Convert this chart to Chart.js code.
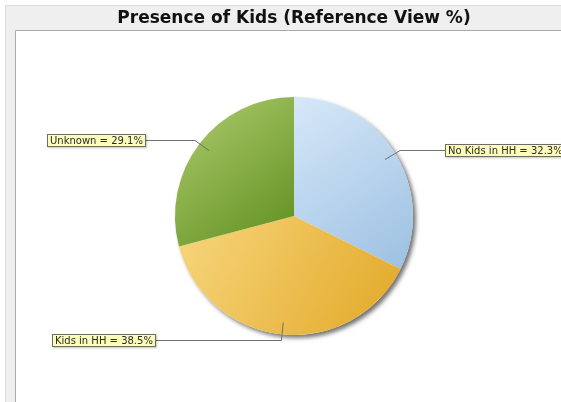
<!DOCTYPE html>
<html>
<head>
<meta charset="utf-8">
<script src="https://cdn.jsdelivr.net/npm/chart.js@4/dist/chart.umd.min.js"></script>
<style>
  html, body { margin: 0; padding: 0; background: #ffffff; }
  #wrap { width: 561px; height: 402px; position: relative; }
</style>
</head>
<body>
<div id="wrap"><canvas id="c" width="561" height="402"></canvas></div>
<script>
// Presence of kids in household, share of reference view (%)
const categories = ['No Kids in HH', 'Kids in HH', 'Unknown'];
const shares = [32.3, 38.5, 29.1];
const chartTitle = 'Presence of Kids (Reference View %)';

// Gradient stops per slice: [light, dark]
const sliceShades = [
  ['#d6e8f8', '#9cc0e2'],
  ['#f7d67e', '#e2a826'],
  ['#b0cd70', '#5e8e1e']
];

// Each slice gets a top-left to bottom-right gradient over its own bounding box
function sliceFill(context) {
  const chart = context.chart;
  const area = chart.chartArea;
  const i = context.dataIndex;
  const pair = sliceShades[i];
  if (!area) return pair[0];
  const cx = (area.left + area.right) / 2;
  const cy = (area.top + area.bottom) / 2;
  const r = Math.min(area.right - area.left, area.bottom - area.top) / 2;
  const total = shares.reduce((a, b) => a + b, 0);
  let before = 0;
  for (let k = 0; k < i; k++) before += shares[k];
  const a0 = -Math.PI / 2 + (before / total) * Math.PI * 2;
  const a1 = a0 + (shares[i] / total) * Math.PI * 2;
  let minX = cx, maxX = cx, minY = cy, maxY = cy;
  const steps = 48;
  for (let s = 0; s <= steps; s++) {
    const a = a0 + (a1 - a0) * s / steps;
    const x = cx + Math.cos(a) * r, y = cy + Math.sin(a) * r;
    minX = Math.min(minX, x); maxX = Math.max(maxX, x);
    minY = Math.min(minY, y); maxY = Math.max(maxY, y);
  }
  const g = chart.ctx.createLinearGradient(minX, minY, maxX, maxY);
  g.addColorStop(0, pair[0]);
  g.addColorStop(1, pair[1]);
  return g;
}

// Panel frame behind the chart and the pie's drop shadow
const framePlugin = {
  id: 'frame',
  beforeDraw(chart) {
    const ctx = chart.ctx;
    ctx.save();
    ctx.fillStyle = '#ffffff';
    ctx.fillRect(0, 0, chart.width, chart.height);
    ctx.fillStyle = '#efefef';
    ctx.fillRect(5, 5, chart.width - 5, chart.height - 5);
    ctx.strokeStyle = '#dcdcdc';
    ctx.lineWidth = 1;
    ctx.beginPath();
    ctx.moveTo(5.5, chart.height);
    ctx.lineTo(5.5, 5.5);
    ctx.lineTo(chart.width, 5.5);
    ctx.stroke();
    ctx.fillStyle = '#ffffff';
    ctx.fillRect(15, 30, chart.width - 15, chart.height - 30);
    ctx.strokeStyle = '#a9a9a9';
    ctx.beginPath();
    ctx.moveTo(15.5, chart.height);
    ctx.lineTo(15.5, 30.5);
    ctx.lineTo(chart.width, 30.5);
    ctx.stroke();
    ctx.restore();
  },
  beforeDatasetsDraw(chart) {
    const arc = chart.getDatasetMeta(0).data[0];
    if (!arc) return;
    const ctx = chart.ctx;
    ctx.save();
    ctx.shadowColor = 'rgba(0,0,0,0.55)';
    ctx.shadowBlur = 4;
    ctx.shadowOffsetX = 3;
    ctx.shadowOffsetY = 3;
    ctx.fillStyle = '#ffffff';
    ctx.beginPath();
    ctx.arc(arc.x, arc.y, arc.outerRadius, 0, Math.PI * 2);
    ctx.fill();
    ctx.restore();
  }
};

// Callout labels with leader lines
const calloutPlugin = {
  id: 'callouts',
  afterDatasetsDraw(chart) {
    const ctx = chart.ctx;
    const meta = chart.getDatasetMeta(0);
    ctx.save();
    ctx.font = '10px "DejaVu Sans", sans-serif';
    ctx.textBaseline = 'middle';
    meta.data.forEach((arc, i) => {
      const mid = (arc.startAngle + arc.endAngle) / 2;
      const r = arc.outerRadius;
      const ax = arc.x + Math.cos(mid) * r * 0.9;
      const ay = arc.y + Math.sin(mid) * r * 0.9;
      const ex = arc.x + Math.cos(mid) * r * 1.05;
      const ey = arc.y + Math.sin(mid) * r * 1.05;
      const text = categories[i] + ' = ' + shares[i].toFixed(1) + '%';
      const tw = ctx.measureText(text).width;
      const bw = Math.round(tw) + 6, bh = 13;
      const right = Math.cos(mid) > 0.2;
      const bx = right ? 445 : (Math.sin(mid) > 0.5 ? 52 : 47);
      const by = Math.round(ey) - 6;
      // leader line
      ctx.strokeStyle = '#707070';
      ctx.lineWidth = 1;
      ctx.beginPath();
      ctx.moveTo(ax, ay);
      ctx.lineTo(ex, Math.round(ey) + 0.5);
      ctx.lineTo(right ? bx : bx + bw, Math.round(ey) + 0.5);
      ctx.stroke();
      // box
      ctx.shadowColor = 'rgba(0,0,0,0.25)';
      ctx.shadowBlur = 2;
      ctx.shadowOffsetX = 1;
      ctx.shadowOffsetY = 1;
      ctx.fillStyle = '#fcfcbc';
      ctx.fillRect(bx, by, bw, bh);
      ctx.shadowColor = 'transparent';
      ctx.strokeStyle = '#6e6e5e';
      ctx.strokeRect(bx + 0.5, by + 0.5, bw - 1, bh - 1);
      ctx.fillStyle = '#2a2a2a';
      ctx.fillText(text, bx + 3, by + bh / 2 + 0.5);
    });
    ctx.restore();
  }
};

new Chart(document.getElementById('c'), {
  type: 'pie',
  data: {
    labels: categories,
    datasets: [{
      data: shares,
      backgroundColor: sliceFill,
      borderWidth: 0,
      hoverOffset: 0
    }]
  },
  options: {
    responsive: false,
    animation: false,
    events: [],
    layout: { padding: { top: 0, bottom: 67, left: 100, right: 73 } },
    plugins: {
      legend: { display: false },
      tooltip: { enabled: false },
      title: {
        display: true,
        text: chartTitle,
        color: '#111111',
        font: { family: '"DejaVu Sans", sans-serif', size: 17, weight: 'bold', lineHeight: 1.2 },
        padding: { top: 8, bottom: 68.6 }
      }
    }
  },
  plugins: [framePlugin, calloutPlugin]
});
</script>
</body>
</html>
